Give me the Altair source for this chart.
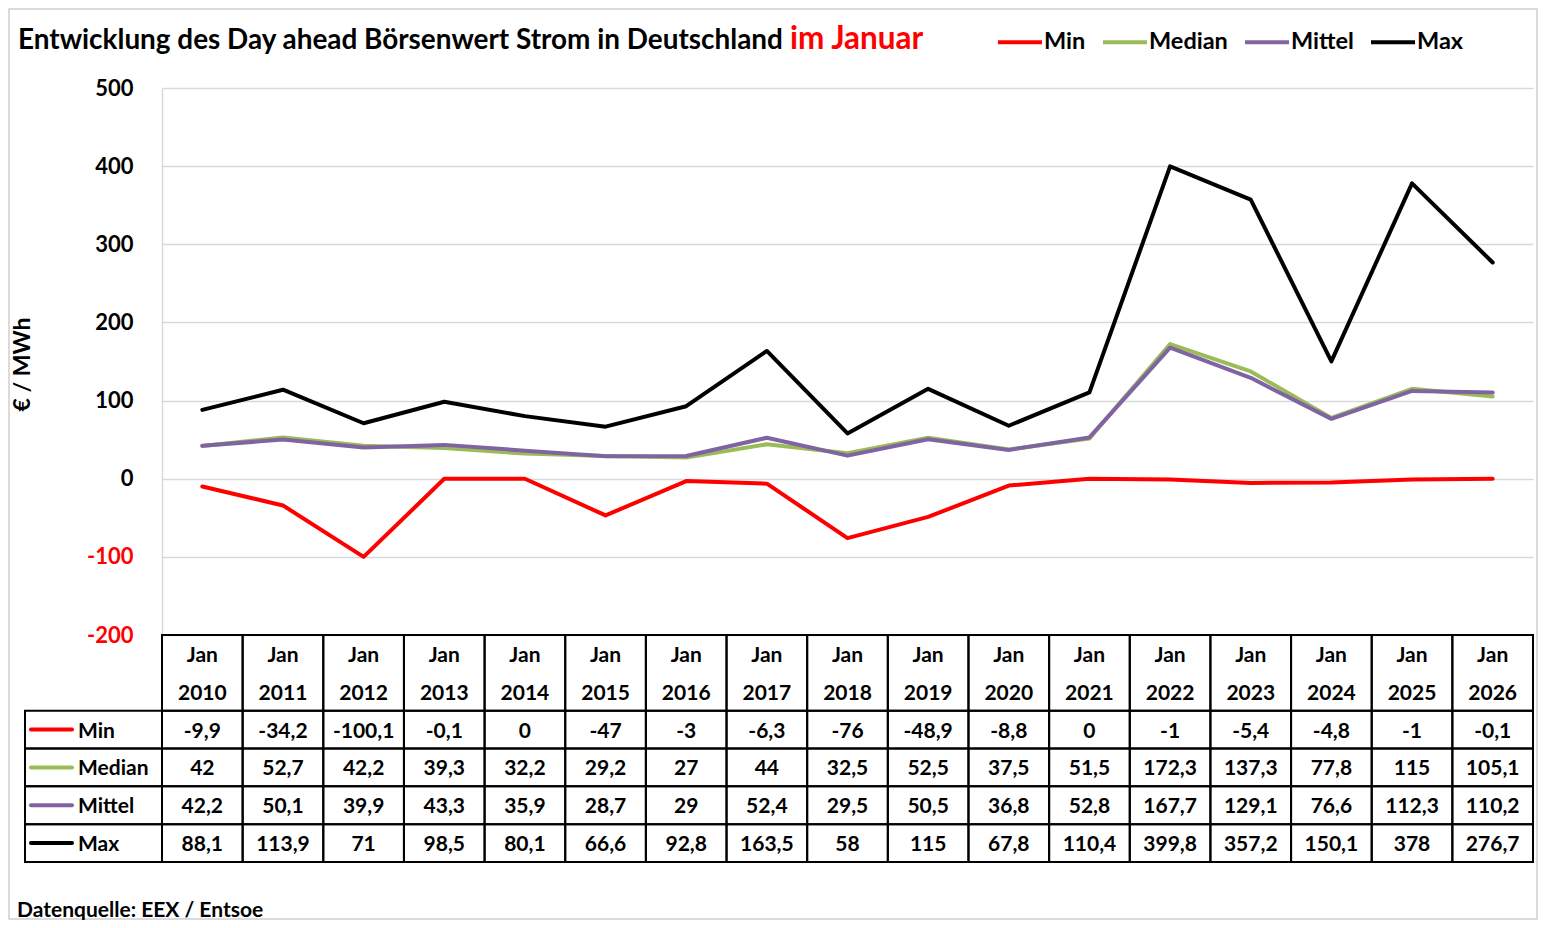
import altair as alt
import pandas as pd

# ---- data -------------------------------------------------------------
years = ["2010", "2011", "2012", "2013", "2014", "2015", "2016", "2017", "2018",
         "2019", "2020", "2021", "2022", "2023", "2024", "2025", "2026"]
series = ["Min", "Median", "Mittel", "Max"]
colors = ["#FF0000", "#9BBB59", "#8064A2", "#000000"]

v_min = [-9.9, -34.2, -100.1, -0.1, 0, -47, -3, -6.3, -76, -48.9, -8.8, 0, -1, -5.4, -4.8, -1, -0.1]
v_median = [42, 52.7, 42.2, 39.3, 32.2, 29.2, 27, 44, 32.5, 52.5, 37.5, 51.5, 172.3, 137.3, 77.8, 115, 105.1]
v_mittel = [42.2, 50.1, 39.9, 43.3, 35.9, 28.7, 29, 52.4, 29.5, 50.5, 36.8, 52.8, 167.7, 129.1, 76.6, 112.3, 110.2]
v_max = [88.1, 113.9, 71, 98.5, 80.1, 66.6, 92.8, 163.5, 58, 115, 67.8, 110.4, 399.8, 357.2, 150.1, 378, 276.7]

y_ticks = [-200, -100, 0, 100, 200, 300, 400, 500]

title_black = "Entwicklung des Day ahead Börsenwert Strom in Deutschland"
title_red = "im Januar"
y_title = "€ / MWh"
source = "Datenquelle:  EEX / Entsoe"

# ---- layout constants --------------------------------------------------
W, H_PLOT, H_TABLE = 1371, 547, 227
H = H_PLOT + H_TABLE
N = len(years)
COLW = W / N
FONT = "Lato"
FS = 21

values = {"Min": v_min, "Median": v_median, "Mittel": v_mittel, "Max": v_max}


def fmt(v):
    return f"{v:g}".replace(".", ",")


rows = []
for s_i, s in enumerate(series):
    for i, y in enumerate(years):
        rows.append({"Serie": s, "order": s_i, "xi": i + 0.5, "Jahr": y, "Wert": values[s][i]})
df_lines = pd.DataFrame(rows)

color_scale = alt.Scale(domain=series, range=colors)
x_scale = alt.Scale(domain=[0, N], nice=False, zero=False)

legend = alt.Legend(
    orient="none", legendX=834, legendY=-70, direction="horizontal", title=None,
    symbolType="stroke", symbolStrokeWidth=4, symbolSize=1936,
    labelFontSize=23.5, labelFont=FONT, labelFontWeight="bold", labelColor="black",
    columnPadding=9, labelOffset=0, padding=0, labelLimit=300,
)

lines = alt.Chart(df_lines).mark_line(strokeWidth=4, strokeCap="round", strokeJoin="round").encode(
    x=alt.X("xi:Q", scale=x_scale, axis=None),
    y=alt.Y("Wert:Q",
            scale=alt.Scale(domain=[-200, 500], range=[H_PLOT, 0], nice=False, zero=False),
            axis=alt.Axis(values=y_ticks, title=y_title, grid=True, gridColor="#d9d9d9", gridWidth=1.5,
                          domainColor="#d9d9d9", domainWidth=1.5, ticks=False,
                          labelFont=FONT, labelFontSize=FS + 1, labelFontWeight="bold",
                          labelExpr="'' + datum.value",
                          labelColor={"condition": {"test": "datum.value < 0", "value": "#FF0000"},
                                      "value": "black"},
                          labelPadding=29,
                          titleFont=FONT, titleFontSize=23, titleFontWeight="bold", titleColor="black",
                          titleAngle=270, titleX=-140, titleY=276,
                          titleAlign="center", titleBaseline="middle")),
    color=alt.Color("Serie:N", scale=color_scale, sort=series, legend=legend),
    detail="Serie:N",
    order="order:Q",
)

# ---- table -------------------------------------------------------------
cells = []
texts = []
label_left = -137 / COLW
for i, y in enumerate(years):
    cells.append({"x0": i, "x1": i + 1, "y0": 0, "y1": 2})
    texts.append({"xc": i + 0.5, "yc": 0.5, "t": "Jan"})
    texts.append({"xc": i + 0.5, "yc": 1.5, "t": y})
for r, s in enumerate(series):
    rr = r + 2
    cells.append({"x0": label_left, "x1": 0, "y0": rr, "y1": rr + 1})
    for i in range(N):
        cells.append({"x0": i, "x1": i + 1, "y0": rr, "y1": rr + 1})
        texts.append({"xc": i + 0.5, "yc": rr + 0.5, "t": fmt(values[s][i])})
df_cells = pd.DataFrame(cells)
df_texts = pd.DataFrame(texts)
df_rowlab = pd.DataFrame({"Serie": series, "yc": [r + 2.5 for r in range(len(series))]})

ty_scale = alt.Scale(domain=[0, 6], range=[H_PLOT, H], nice=False, zero=False)

cell_rects = alt.Chart(df_cells).mark_rect(fill=None, fillOpacity=0, stroke="black", strokeWidth=2).encode(
    x=alt.X("x0:Q", scale=x_scale, axis=None), x2="x1:Q",
    y=alt.Y("y0:Q", scale=ty_scale, axis=None), y2="y1:Q",
)
cell_text = alt.Chart(df_texts).mark_text(font=FONT, fontSize=FS, fontWeight="bold", color="black",
                                          align="center", baseline="middle", dy=2).encode(
    x=alt.X("xc:Q", scale=x_scale, axis=None),
    y=alt.Y("yc:Q", scale=ty_scale, axis=None),
    text="t:N",
)
swatches = alt.Chart(df_rowlab).mark_rule(strokeWidth=4, strokeCap="round").encode(
    x=alt.value(-131), x2=alt.value(-90),
    y=alt.Y("yc:Q", scale=ty_scale, axis=None),
    color=alt.Color("Serie:N", scale=color_scale, sort=series, legend=legend),
)
row_labels = alt.Chart(df_rowlab).mark_text(font=FONT, fontSize=FS, fontWeight="bold", color="black",
                                            align="left", baseline="middle", dy=2).encode(
    x=alt.value(-84),
    y=alt.Y("yc:Q", scale=ty_scale, axis=None),
    text="Serie:N",
)
table = alt.layer(cell_rects, cell_text, swatches, row_labels)

# ---- annotations -------------------------------------------------------
one = pd.DataFrame({"a": [0]})
t1 = alt.Chart(one).mark_text(text=title_black, font=FONT, fontSize=27.9, fontWeight="bold", color="black",
                              align="left", baseline="alphabetic").encode(x=alt.value(-144), y=alt.value(-39))
t2 = alt.Chart(one).mark_text(text=title_red, font=FONT, fontSize=31.5, fontWeight="bold", color="#FF0000",
                              align="left", baseline="alphabetic").encode(x=alt.value(628), y=alt.value(-39))
src = alt.Chart(one).mark_text(text=source, font=FONT, fontSize=21, fontWeight="bold", color="black",
                               align="left", baseline="middle").encode(x=alt.value(-145), y=alt.value(H + 49))
border = alt.Chart(one).mark_rect(fill=None, fillOpacity=0, stroke="#d0d0d0", strokeWidth=1.5).encode(
    x=alt.value(-153), x2=alt.value(W + 4), y=alt.value(-79), y2=alt.value(H + 57))

chart = alt.layer(border, lines, table, t1, t2, src).resolve_scale(y="independent").properties(
    width=W, height=H,
    autosize=alt.AutoSizeParams(type="none"),
    padding={"left": 154, "top": 80, "right": 5, "bottom": 58},
    background="white",
).configure_view(stroke=None)

chart.save("out.html", embed_options={"renderer": "svg", "actions": False})
